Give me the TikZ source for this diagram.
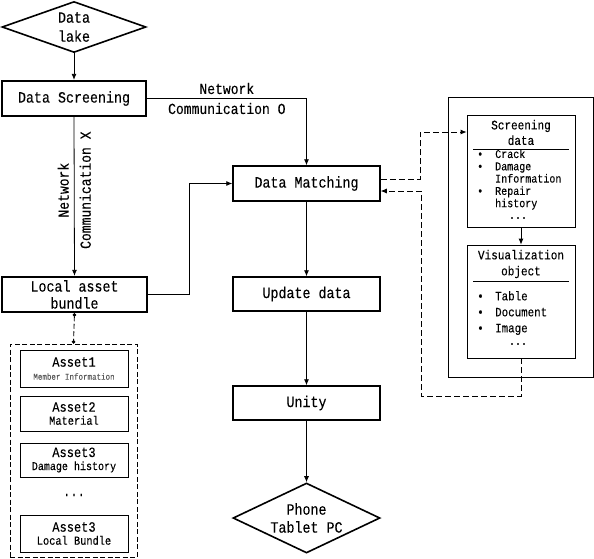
\documentclass[tikz,border=0pt]{standalone}
\usepackage{fontspec}
\setmainfont{Liberation Mono}[Scale=1.18, FakeStretch=0.85, FakeBold=0.12]
\usetikzlibrary{arrows.meta,shapes.geometric}
\newcommand\bl[1]{\makebox[18pt][l]{•}#1}
\newcommand\ind[1]{\hspace*{18pt}#1}
\begin{document}
\begin{tikzpicture}[x=1pt,y=-1pt,
  box/.style={draw, line width=1.5pt, minimum width=147pt, minimum height=35pt, inner sep=0pt,
    font=\fontsize{13.3}{17}\selectfont, align=center},
  thickbox/.style={box, line width=2.3pt, minimum width=144pt},
  dia/.style={draw, diamond, line width=1.6pt, inner sep=0pt, align=center,
    font=\fontsize{13.3}{19}\selectfont},
  conn/.style={-{Latex[length=6pt,width=5pt]}, line width=0.8pt},
  dconn/.style={conn, dash pattern=on 6pt off 3pt},
  asset/.style={draw, line width=0.8pt, minimum width=108pt, inner sep=0pt, align=center,
    font=\fontsize{12}{15}\selectfont},
  panel/.style={draw, line width=0.8pt, inner sep=0pt},
  lbl/.style={font=\fontsize{13}{20}\selectfont, align=center, inner sep=0pt},
  small/.style={font=\fontsize{11}{15.5}\selectfont, align=center, inner sep=0pt},
  items/.style={align=left, inner sep=0pt, anchor=west}
]
\useasboundingbox (0,0) rectangle (594,558);

% main flow
\node[dia, minimum width=144pt, minimum height=51pt, aspect=2.8] (lake) at (74,27) {Data\\lake};
\node[thickbox] (scr) at (74,98.5) {Data Screening};
\node[thickbox, minimum width=145pt, font=\fontsize{13.3}{17}\selectfont] (lab) at (74.5,294.5) {Local asset\\bundle};
\node[box] (match) at (306.5,183.5) {Data Matching};
\node[box, minimum height=34pt] (upd) at (306.5,294) {Update data};
\node[box, minimum height=34pt] (unity) at (306.5,403) {Unity};
\node[dia, minimum width=147pt, minimum height=70pt, aspect=2.1, font=\fontsize{13.3}{18}\selectfont] (phone) at (306.5,518) {Phone\\Tablet PC};

% local asset group
\node[draw, dash pattern=on 5pt off 2.5pt, line width=0.8pt, minimum width=127pt, minimum height=213pt, inner sep=0pt] (grp) at (73.5,450.5) {};
\node[asset, minimum height=37pt] (a1) at (74,368.5) {Asset1\\[-2pt]{\color{gray!70!black}\fontsize{7.5}{9}\selectfont Member Information}};
\node[asset, minimum height=35pt] (a2) at (74,413.5) {Asset2\\[-2pt]{\fontsize{10.3}{13}\selectfont Material}};
\node[asset, minimum height=34pt] (a3) at (74,460) {Asset3\\[-2pt]{\fontsize{10}{13}\selectfont Damage history}};
\node[inner sep=0pt, font=\fontsize{12}{14}\selectfont] (adots) at (74,495) {...};
\node[asset, minimum height=37pt] (a4) at (74,533.5) {Asset3\\[-2pt]{\fontsize{10.3}{13}\selectfont Local Bundle}};

% right panel
\node[panel, minimum width=145pt, minimum height=280pt] (outer) at (520.5,237) {};
\node[panel, minimum width=108pt, minimum height=112pt] (sd) at (521,171) {};
\node[small] (sdt) at (521,132.5) {Screening\\data};
\draw[line width=0.8pt] (473,149) -- (569,149);
\node[items, font=\fontsize{10}{12.3}\selectfont] (sdi) at (477,179.5) {\bl{Crack}\\\bl{Damage}\\\ind{Information}\\\bl{Repair}\\\ind{history}};
\node[inner sep=0pt, font=\fontsize{10}{12}\selectfont] (sddots) at (518,218) {...};

\node[panel, minimum width=108pt, minimum height=113pt] (vo) at (521,301.5) {};
\node[small, font=\fontsize{11}{16}\selectfont] (vot) at (521,264) {Visualization\\object};
\draw[line width=0.8pt] (473,281) -- (569,281);
\node[items, font=\fontsize{10.8}{16}\selectfont] (voi) at (477,313) {\bl{Table}\\\bl{Document}\\\bl{Image}};
\node[inner sep=0pt, font=\fontsize{10}{12}\selectfont] (vodots) at (518,344) {...};

% connectors
\draw[conn] (lake.south) -- (scr.north);
\draw[conn] (scr.east) -| (match.north) node[lbl, pos=0.25] {Network\\Communication O};
\draw[conn] (scr.south) -- (lab.north) node[lbl, pos=0.46, rotate=90, font=\fontsize{13}{22}\selectfont] {Network\\Communication X};
\draw[conn] (lab.east) -- ++(41,0) |- (match.west);
\draw[conn] (match.south) -- (upd.north);
\draw[conn] (upd.south) -- (unity.north);
\draw[conn] (unity.south) -- (phone.north);
\draw[dash pattern=on 5pt off 2.5pt, line width=0.8pt, {Circle[length=3.5pt]}-{Circle[length=3.5pt]}] (lab.south) -- (grp.north);
\draw[conn] (sd.south) -- (vo.north);

\coordinate (r0) at (420,132);
\coordinate (r1) at (421,396);
\draw[dconn] ([yshift=4.5pt]match.east) -| (r0) -- ([yshift=39pt]sd.west);
\draw[dconn] (vo.south) |- (r1) |- ([yshift=-7.5pt]match.east);
\end{tikzpicture}
\end{document}
